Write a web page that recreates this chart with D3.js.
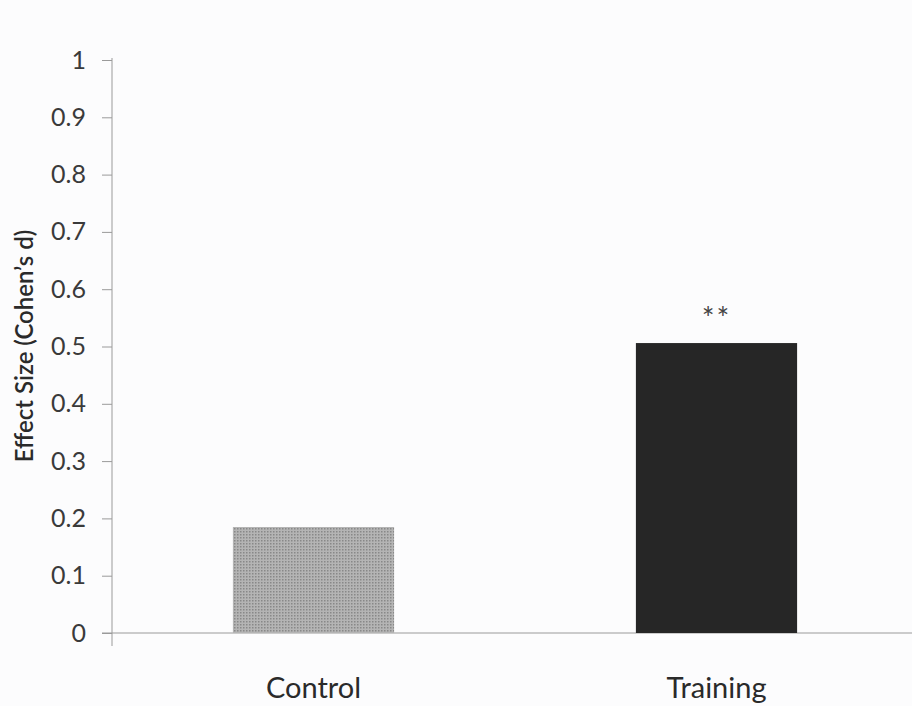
<!DOCTYPE html>
<html lang="en">
<head>
	<meta charset="UTF-8" />
	<title>Effect size</title>
	<script src="https://cdn.jsdelivr.net/npm/d3@7/dist/d3.min.js"></script>
	<style>
		body { margin: 0; background: #fcfcfd; }
		svg { display: block; }
	</style>
</head>
<body>
	<svg id="vis" width="912" height="706"></svg>
<script>
	// data
	const groups = ["Control", "Training"];
	const effects = [0.185, 0.506];
	const marks = ["", "**"];
	const yTicks = [0, 0.1, 0.2, 0.3, 0.4, 0.5, 0.6, 0.7, 0.8, 0.9, 1];

	const font = "Lato, 'Open Sans', sans-serif";
	const svg = d3.select("#vis");

	// pattern for the stippled control bar
	const defs = svg.append("defs");
	const pat = defs.append("pattern")
		.attr("id", "stipple")
		.attr("width", 3).attr("height", 3)
		.attr("patternUnits", "userSpaceOnUse");
	pat.append("rect").attr("width", 3).attr("height", 3).attr("fill", "#b4b4b4");
	pat.append("rect").attr("width", 1.5).attr("height", 1.5).attr("fill", "#888");

	// Echelles
	const y = d3.scaleLinear().domain([0, 1]).range([633, 60]);
	const x = d3.scaleBand().domain(groups).range([112, 918])
		.paddingInner(0.6).paddingOuter(0.3);

	// Axe Y
	const gy = svg.append("g").attr("transform", "translate(112,0)");
	gy.call(d3.axisLeft(y).tickValues(yTicks).tickSize(10).tickPadding(16)
		.tickFormat(d => d === 0 || d === 1 ? d3.format("d")(d) : d3.format(".1f")(d)));
	gy.select(".domain").remove();
	gy.selectAll(".tick line").attr("stroke", "#9a9a9a");
	gy.selectAll(".tick text")
		.attr("font-family", font).attr("font-size", 25).attr("fill", "#3a3a3a");
	svg.append("line")
		.attr("x1", 112).attr("x2", 112)
		.attr("y1", y(1) - 2).attr("y2", y(0) + 13)
		.attr("stroke", "#9a9a9a");

	// Ligne du zéro
	svg.append("line")
		.attr("x1", 102).attr("x2", 912)
		.attr("y1", y(0)).attr("y2", y(0))
		.attr("stroke", "#9a9a9a");

	// Barres
	const fills = ["url(#stipple)", "#262626"];
	svg.selectAll(".bar").data(groups).join("rect")
		.attr("class", "bar")
		.attr("x", d => x(d))
		.attr("width", x.bandwidth())
		.attr("y", (d, i) => y(effects[i]))
		.attr("height", (d, i) => y(0) - y(effects[i]))
		.attr("fill", (d, i) => fills[i]);

	// Significativité
	svg.selectAll(".mark").data(groups).join("text")
		.attr("class", "mark")
		.attr("x", d => x(d) + x.bandwidth() / 2)
		.attr("y", (d, i) => y(effects[i]) - 14)
		.attr("text-anchor", "middle")
		.attr("font-family", font).attr("font-size", 30).attr("fill", "#444")
		.attr("letter-spacing", 2)
		.text((d, i) => marks[i]);

	// Libellés des catégories
	svg.selectAll(".cat").data(groups).join("text")
		.attr("class", "cat")
		.attr("x", d => x(d) + x.bandwidth() / 2)
		.attr("y", 698)
		.attr("text-anchor", "middle")
		.attr("font-family", font).attr("font-size", 29).attr("fill", "#2a2a2a")
		.text(d => d);

	// Titre de l'axe Y
	svg.append("text")
		.attr("transform", "translate(33,346) rotate(-90)")
		.attr("text-anchor", "middle")
		.attr("font-family", font).attr("font-size", 24).attr("font-weight", 600)
		.attr("fill", "#2a2a2a")
		.text("Effect Size (Cohen’s d)");
</script>
</body>
</html>
